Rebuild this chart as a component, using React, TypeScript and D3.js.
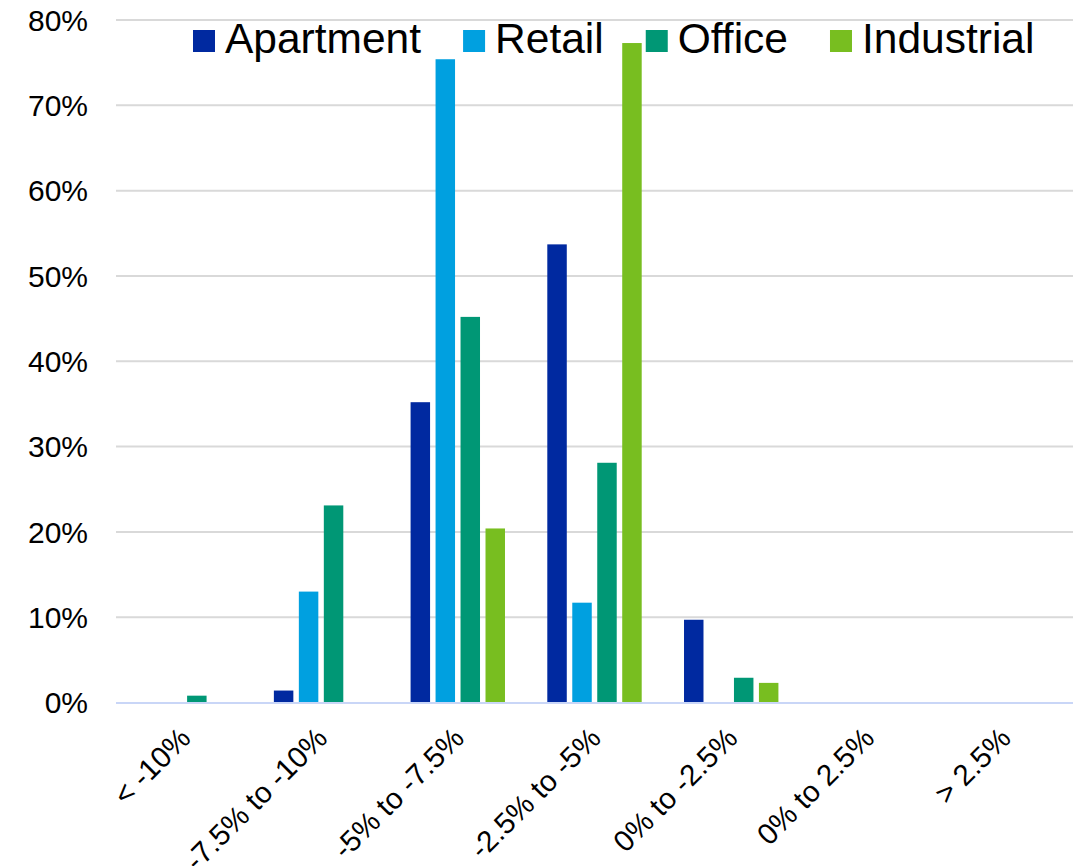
import React, { useEffect, useRef } from "react";
import * as d3 from "d3";

const categories = ["< -10%", "-7.5% to -10%", "-5% to -7.5%", "-2.5% to -5%", "0% to -2.5%", "0% to 2.5%", "> 2.5%"];
const seriesNames = ["Apartment", "Retail", "Office", "Industrial"];
const apartment = [0, 1.4, 35.2, 53.7, 9.7, 0, 0];
const retail = [0, 13.0, 75.4, 11.7, 0, 0, 0];
const office = [0.8, 23.1, 45.2, 28.1, 2.9, 0, 0];
const industrial = [0, 0, 20.4, 77.3, 2.3, 0, 0];
const seriesColors = ["#0029A0", "#00A0E0", "#009775", "#78BE20"];
const yTicks = [0, 10, 20, 30, 40, 50, 60, 70, 80];

const W = 1077;
const H = 866;
const FONT = "'Liberation Sans', Arial, sans-serif";

export default function App() {
  const ref = useRef<SVGSVGElement>(null);

  useEffect(() => {
    const svg = d3.select(ref.current);
    svg.selectAll("*").remove();

    const left = 116;
    const right = 1073;
    const top = 20;
    const bottom = 702.5;

    const x0 = d3.scaleBand<string>().domain(categories).range([left, right]).padding(0);
    const groupW = 94.4;
    const x1 = d3.scaleBand<string>().domain(seriesNames).range([0, groupW]).paddingInner(0.22).paddingOuter(0);
    const y = d3.scaleLinear().domain([0, 80]).range([bottom, top]);

    // gridlines
    svg.append("g")
      .selectAll("line")
      .data(yTicks.filter((t) => t > 0))
      .join("line")
      .attr("x1", left)
      .attr("x2", right)
      .attr("y1", (d) => y(d))
      .attr("y2", (d) => y(d))
      .attr("stroke", "#d9d9d9")
      .attr("stroke-width", 2);

    // y labels
    svg.append("g")
      .selectAll("text")
      .data(yTicks)
      .join("text")
      .attr("x", 88)
      .attr("y", (d) => y(d) + 10.7)
      .attr("text-anchor", "end")
      .attr("font-family", FONT)
      .attr("font-size", 30)
      .attr("fill", "#000")
      .text((d) => `${d}%`);

    const allSeries = [apartment, retail, office, industrial];
    const groups = svg.append("g");
    seriesNames.forEach((name, si) => {
      groups.append("g")
        .selectAll("rect")
        .data(allSeries[si].map((v, i) => ({ v, c: categories[i] })))
        .join("rect")
        .attr("x", (d) => (x0(d.c) as number) + (x0.bandwidth() - groupW) / 2 + (x1(name) as number))
        .attr("width", x1.bandwidth())
        .attr("y", (d) => y(d.v))
        .attr("height", (d) => bottom - y(d.v))
        .attr("fill", seriesColors[si]);
    });

    // axis line
    svg.append("line")
      .attr("x1", left)
      .attr("x2", right)
      .attr("y1", bottom + 0.5)
      .attr("y2", bottom + 0.5)
      .attr("stroke", "#c9d6f7")
      .attr("stroke-width", 2);

    // x labels
    svg.append("g")
      .selectAll("text")
      .data(categories)
      .join("text")
      .attr("transform", (d) => `translate(${(x0(d) as number) + x0.bandwidth() / 2 + 8},${740}) rotate(-45)`)
      .attr("text-anchor", "end")
      .attr("font-family", FONT)
      .attr("font-size", 29.5)
      .attr("fill", "#000")
      .text((d) => d);

    // legend
    const legend = svg.append("g");
    let lx = 193;
    seriesNames.forEach((name, i) => {
      legend.append("rect")
        .attr("x", lx)
        .attr("y", 30)
        .attr("width", 22)
        .attr("height", 22)
        .attr("fill", seriesColors[i]);
      const t = legend.append("text")
        .attr("x", lx + 32)
        .attr("y", 53)
        .attr("font-family", FONT)
        .attr("font-size", 42.5)
        .attr("fill", "#000")
        .text(name);
      const tw = (t.node() as SVGTextElement).getComputedTextLength();
      lx = lx + 32 + tw + 42;
    });
  }, []);

  return (
    <svg
      ref={ref}
      width={W}
      height={H}
      style={{ position: "absolute", left: 0, top: 0, background: "#fff" }}
    />
  );
}
